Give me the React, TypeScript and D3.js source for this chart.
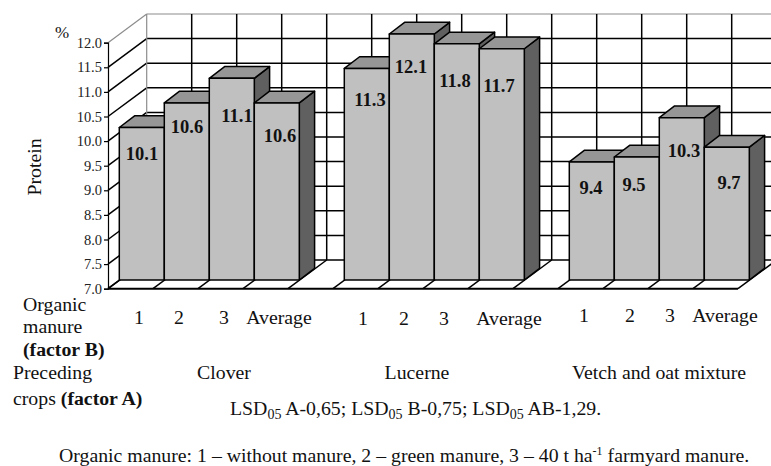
import * as d3 from "d3";
import React from "react";

const W = 771;
const H = 466;

const cloverValues = [10.1, 10.6, 11.1, 10.6];
const lucerneValues = [11.3, 12.1, 11.8, 11.7];
const vetchValues = [9.4, 9.5, 10.3, 9.7];
const factorBLabels = ["1", "2", "3", "Average"];
const yTicks = [7, 7.5, 8, 8.5, 9, 9.5, 10, 10.5, 11, 11.5, 12];

const groups = [cloverValues, lucerneValues, vetchValues];

// slots along the front edge of the floor, a blank slot sits between groups
const slots = d3.range(14);

// hand placed, the value labels wander around inside the bars
const valueLabelX = [
  [142, 187, 237, 280],
  [370, 411, 455, 499],
  [591, 634, 684, 729],
];
const valueLabelY = [
  [160, 133, 122, 142],
  [106, 73, 87, 92],
  [194, 191, 157, 189],
];
const factorBLabelX = [
  [139, 179, 224, 279],
  [363, 404, 444, 509],
  [584, 630, 670, 725],
];
const factorBLabelY = [324, 325, 322];

export default function App() {
  const svgRef = React.useRef<SVGGElement | null>(null);

  React.useEffect(() => {
    const svg = d3.select(svgRef.current);
    svg.selectAll("*").remove();

    const left = 108;
    const right = 738;
    const bottom = 288.7;
    const top = 42.7;
    const depthX = 38.7;
    const depthY = -28.7;

    const x = d3.scaleBand<number>().domain(slots).range([left, right]);
    const y = d3.scaleLinear().domain([7, 12]).range([bottom, top]).clamp(true);
    const bw = x.bandwidth();

    const seg = (x1: number, y1: number, x2: number, y2: number, color = "#000", w = 1.5) =>
      svg
        .append("line")
        .attr("x1", x1)
        .attr("y1", y1)
        .attr("x2", x2)
        .attr("y2", y2)
        .attr("stroke", color)
        .attr("stroke-width", w);

    // back wall and side wall
    yTicks.forEach((t, i) => {
      const last = i === yTicks.length - 1;
      seg(left + depthX, y(t) + depthY, right + depthX, y(t) + depthY, last ? "#8c8c8c" : "#000", last ? 1.2 : 1.5);
      seg(left, y(t), left + depthX, y(t) + depthY, last ? "#8c8c8c" : "#000", last ? 1.2 : 1.5);
    });
    slots.forEach((s) => {
      const px = x(s)!;
      if (s > 0) seg(px + depthX, top + depthY, px + depthX, bottom + depthY);
      seg(px, bottom, px + depthX, bottom + depthY);
    });
    seg(left + depthX, top + depthY, left + depthX, bottom + depthY, "#8c8c8c", 1.2);
    seg(right, bottom, right + depthX, bottom + depthY);

    // bars
    const offX = 11.3;
    const offY = -8.7;
    const dx = 15.3;
    const dy = -11.7;
    const y0 = y(7);

    const polygon = (pts: Array<[number, number]>, fill: string) =>
      svg
        .append("path")
        .attr("d", (d3.line()(pts) ?? "") + "Z")
        .attr("fill", fill)
        .attr("stroke", "#000")
        .attr("stroke-width", 1.5)
        .attr("stroke-linejoin", "round");

    groups.forEach((values, g) => {
      values.forEach((v, i) => {
        const px = x(g * 5 + i)! + offX;
        const yTop = y(v) + offY;
        const yBase = y0 + offY;
        polygon(
          [
            [px + bw, yBase],
            [px + bw + dx, yBase + dy],
            [px + bw + dx, yTop + dy],
            [px + bw, yTop],
          ],
          "#606060"
        );
        polygon(
          [
            [px, yTop],
            [px + dx, yTop + dy],
            [px + bw + dx, yTop + dy],
            [px + bw, yTop],
          ],
          "#969696"
        );
        polygon(
          [
            [px, yBase],
            [px, yTop],
            [px + bw, yTop],
            [px + bw, yBase],
          ],
          "#c0c0c0"
        );
      });
    });

    // labels go on last so the next bar does not cover them
    groups.forEach((values, g) => {
      values.forEach((v, i) => {
        svg
          .append("text")
          .attr("x", valueLabelX[g][i])
          .attr("y", valueLabelY[g][i])
          .attr("text-anchor", "middle")
          .attr("font-weight", "bold")
          .attr("font-size", 18.5)
          .attr("fill", "#111")
          .text(v.toFixed(1));
      });
    });

    // front floor edge and value axis
    const axis = svg
      .append("g")
      .attr("transform", `translate(${left},0)`)
      .call(
        d3
          .axisLeft(y)
          .tickValues(yTicks)
          .tickSize(4)
          .tickPadding(2)
          .tickFormat((d) => d3.format(".1f")(d as number))
      );
    axis.selectAll("path,line").attr("stroke", "#000").attr("stroke-width", 1.2);
    axis
      .selectAll("text")
      .attr("font-family", "'Liberation Serif'")
      .attr("font-size", 14.5)
      .attr("fill", "#222");
    seg(left, bottom, right, bottom, "#000", 2);
  }, []);

  const label = (text: string, lx: number, ly: number, anchor: string = "start", bold = false) => (
    <text x={lx} y={ly} textAnchor={anchor} fontWeight={bold ? "bold" : "normal"}>
      {text}
    </text>
  );

  return (
    <svg
      width={W}
      height={H}
      viewBox={`0 0 ${W} ${H}`}
      fontFamily="'Liberation Serif', serif"
      fontSize={19.8}
      fill="#111"
      style={{ position: "absolute", left: 0, top: 0, background: "#fff" }}
    >
      <g ref={svgRef} />
      <text x={55} y={38} fontSize={17}>
        %
      </text>
      <text transform="translate(41,167) rotate(-90)" textAnchor="middle">
        Protein
      </text>
      {label("Organic", 23, 311)}
      {label("manure", 23, 333)}
      {label("(factor B)", 23, 356, "start", true)}
      {label("Preceding", 13, 379)}
      <text x={13} y={405}>
        crops <tspan fontWeight="bold">(factor A)</tspan>
      </text>
      {factorBLabelX.map((row, g) =>
        row.map((lx, i) => (
          <text key={`${g}-${i}`} x={lx} y={factorBLabelY[g]} textAnchor="middle">
            {factorBLabels[i]}
          </text>
        ))
      )}
      {label("Clover", 224, 379, "middle")}
      {label("Lucerne", 417, 379, "middle")}
      {label("Vetch and oat mixture", 659, 379, "middle")}
      <text x={230} y={415}>
        LSD<tspan fontSize={14} dy={4}>05</tspan>
        <tspan dy={-4}> A-0,65; LSD</tspan>
        <tspan fontSize={14} dy={4}>05</tspan>
        <tspan dy={-4}> B-0,75; LSD</tspan>
        <tspan fontSize={14} dy={4}>05</tspan>
        <tspan dy={-4}> AB-1,29.</tspan>
      </text>
      <text x={59} y={462}>
        Organic manure: 1 – without manure, 2 – green manure, 3 – 40 t ha
        <tspan fontSize={12} dy={-7}>-1</tspan>
        <tspan dy={7}> farmyard manure.</tspan>
      </text>
    </svg>
  );
}
